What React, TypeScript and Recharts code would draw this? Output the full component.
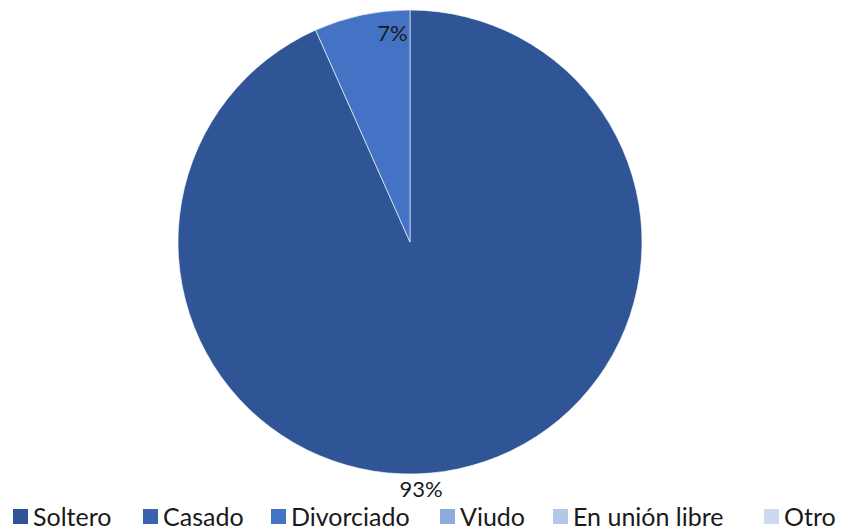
import { PieChart, Pie, Cell, Legend } from "recharts";

const categories = ["Soltero", "Casado", "Divorciado", "Viudo", "En unión libre", "Otro"];
const values = [14, 0, 1, 0, 0, 0];
const colors = ["#2F5597", "#3A62B1", "#4472C4", "#8FAADC", "#B4C7E7", "#CDD9F0"];

const data = categories.map((name, i) => ({ name, value: values[i] }));

const FONT = "Lato, 'Open Sans', 'Liberation Sans', sans-serif";
const RAD = Math.PI / 180;

function renderLabel(props: any) {
  const { cx, cy, outerRadius, midAngle, percent } = props;
  if (!percent) return null;
  const text = `${Math.round(percent * 100)}%`;
  let x: number;
  let y: number;
  if (percent > 0.5) {
    // best-fit style: just outside the bottom edge
    x = cx + 11;
    y = cy + outerRadius + 14;
  } else {
    const mid = ((midAngle % 360) + 360) % 360;
    const a = 90 + (mid - 90) * 0.4;
    const r = outerRadius * 0.905;
    x = cx + r * Math.cos(-a * RAD);
    y = cy + r * Math.sin(-a * RAD);
  }
  return (
    <text
      x={x}
      y={y}
      fill="#1a1a1a"
      fontSize={22}
      fontFamily={FONT}
      textAnchor="middle"
      dominantBaseline="central"
    >
      {text}
    </text>
  );
}

const legendX = [13, 143, 271, 440, 553, 764];

function renderLegend(props: any) {
  const payload = [...(props.payload || [])].sort(
    (a: any, b: any) => categories.indexOf(a.value) - categories.indexOf(b.value)
  );
  return (
    <div style={{ position: "relative", height: 26, width: 841 }}>
      {payload.map((entry: any, i: number) => (
        <div
          key={entry.value}
          style={{
            position: "absolute",
            left: legendX[i],
            top: 0,
            display: "flex",
            alignItems: "center",
            whiteSpace: "nowrap",
          }}
        >
          <span
            style={{
              display: "inline-block",
              width: 15,
              height: 15,
              background: entry.color,
              marginRight: 5,
            }}
          />
          <span style={{ fontSize: 25, fontFamily: FONT, color: "#1a1a1a", lineHeight: "26px" }}>
            {entry.value}
          </span>
        </div>
      ))}
    </div>
  );
}

export default function App() {
  return (
    <div style={{ position: "absolute", left: 0, top: 0, width: 841, height: 531, background: "#fff" }}>
      <PieChart width={841} height={531} margin={{ top: 0, right: 0, bottom: 0, left: 0 }}>
        <Pie
          data={data}
          dataKey="value"
          nameKey="name"
          cx={410}
          cy={242}
          outerRadius={232}
          startAngle={90}
          endAngle={-270}
          label={renderLabel}
          labelLine={false}
          stroke="#ffffff"
          strokeWidth={0.6}
          isAnimationActive={false}
        >
          {data.map((d, i) => (
            <Cell key={d.name} fill={colors[i]} />
          ))}
        </Pie>
        <Legend
          content={renderLegend}
          verticalAlign="bottom"
          align="left"
          wrapperStyle={{ left: 0, bottom: 2, width: 841 }}
        />
      </PieChart>
    </div>
  );
}
